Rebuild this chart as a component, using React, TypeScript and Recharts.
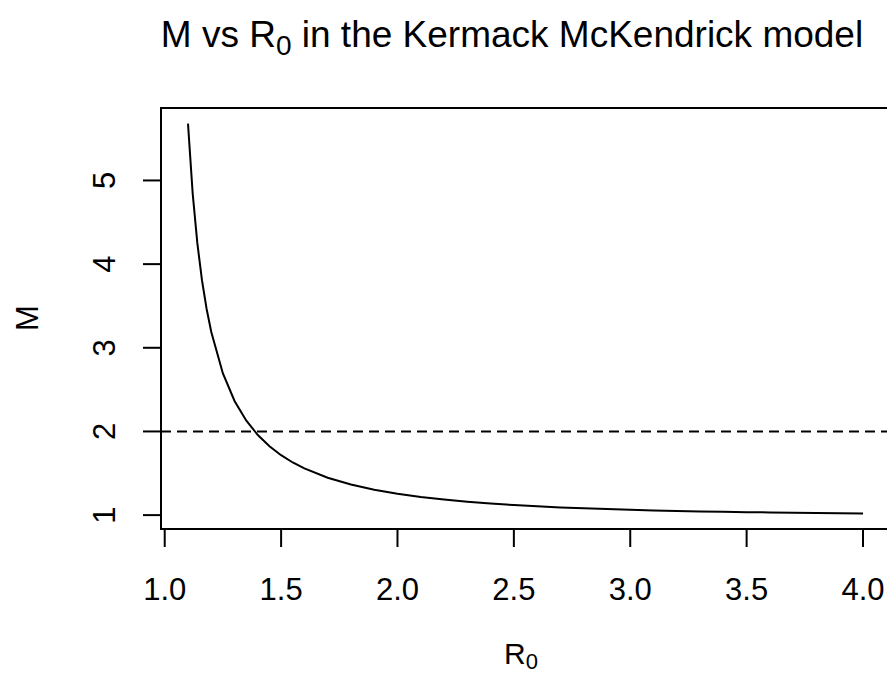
import {
  LineChart, Line, XAxis, YAxis, ReferenceLine, ReferenceArea,
} from 'recharts'

// R0 values and the M
const R0 = [
  1.10, 1.12, 1.14, 1.16, 1.18, 1.20, 1.25, 1.30, 1.35, 1.40, 1.45, 1.50,
  1.55, 1.60, 1.70, 1.80, 1.90, 2.0, 2.1, 2.2, 2.3, 2.4, 2.5, 2.6, 2.7,
  2.8, 2.9, 3.0, 3.1, 3.2, 3.3, 3.4, 3.5, 3.6, 3.7, 3.8, 3.9, 4.0,
]
const M = [
  5.679, 4.847, 4.253, 3.808, 3.464, 3.188, 2.693, 2.364, 2.131, 1.957, 1.822, 1.716,
  1.629, 1.558, 1.447, 1.365, 1.303, 1.255, 1.216, 1.186, 1.160, 1.138, 1.120, 1.105, 1.092,
  1.081, 1.072, 1.063, 1.056, 1.050, 1.044, 1.040, 1.035, 1.032, 1.028, 1.025, 1.023, 1.020,
]
const X_TICKS = [1.0, 1.5, 2.0, 2.5, 3.0, 3.5, 4.0]
const Y_TICKS = [1, 2, 3, 4, 5]
const X_DOMAIN: [number, number] = [0.984, 4.116]
const Y_DOMAIN: [number, number] = [0.834, 5.866]
const THRESHOLD = 2

const FONT = "'Liberation Sans', Arial, Helvetica, sans-serif"

const data = R0.map((r, i) => ({ r, m: M[i] }))

function YTick(props: any) {
  const { y, payload } = props
  const x = 115
  return (
    <text
      x={x}
      y={y}
      transform={`rotate(-90 ${x} ${y})`}
      textAnchor="middle"
      fontSize={31}
      fontFamily={FONT}
      fill="#000"
    >
      {payload.value}
    </text>
  )
}

export default function App() {
  return (
    <div
      style={{
        position: 'absolute', left: 0, top: 0, width: 887, height: 676,
        overflow: 'hidden', background: '#fff',
      }}
    >
      <LineChart
        width={890}
        height={676}
        data={data}
        margin={{ top: 108, right: 0, bottom: 87, left: 0 }}
      >
        <XAxis
          dataKey="r"
          type="number"
          domain={X_DOMAIN}
          ticks={X_TICKS}
          allowDataOverflow
          tickFormatter={(v: number) => v.toFixed(1)}
          axisLine={false}
          tickLine={{ stroke: '#000', strokeWidth: 2 }}
          tickSize={18}
          tickMargin={31}
          height={60}
          tick={{ fontSize: 31, fill: '#000', fontFamily: FONT }}
        />
        <YAxis
          type="number"
          domain={Y_DOMAIN}
          ticks={Y_TICKS}
          allowDataOverflow
          axisLine={false}
          tickLine={{ stroke: '#000', strokeWidth: 2 }}
          tickSize={18}
          width={161}
          tick={<YTick />}
        />
        <ReferenceArea
          x1={X_DOMAIN[0]}
          x2={X_DOMAIN[1]}
          y1={Y_DOMAIN[0]}
          y2={Y_DOMAIN[1]}
          fill="none"
          fillOpacity={0}
          stroke="#000"
          strokeWidth={2}
        />
        <ReferenceLine y={THRESHOLD} stroke="#000" strokeWidth={2} strokeDasharray="10 6" />
        <Line
          type="linear"
          dataKey="m"
          stroke="#000"
          strokeWidth={2}
          dot={false}
          isAnimationActive={false}
        />
      </LineChart>

      {/* title and axis labels */}
      <svg
        width={887}
        height={676}
        style={{ position: 'absolute', left: 0, top: 0, pointerEvents: 'none' }}
        fontFamily={FONT}
        fill="#000"
      >
        <text x={512} y={47} textAnchor="middle" fontSize={37}>
          M vs R<tspan fontSize={28} dy={8}>0</tspan>
          <tspan dy={-8}> in the Kermack McKendrick model</tspan>
        </text>
        <text x={521} y={664} textAnchor="middle" fontSize={30}>
          R<tspan fontSize={22} dy={5}>0</tspan>
        </text>
        <text x={38} y={318} textAnchor="middle" fontSize={31} transform="rotate(-90 38 318)">
          M
        </text>
      </svg>
    </div>
  )
}
